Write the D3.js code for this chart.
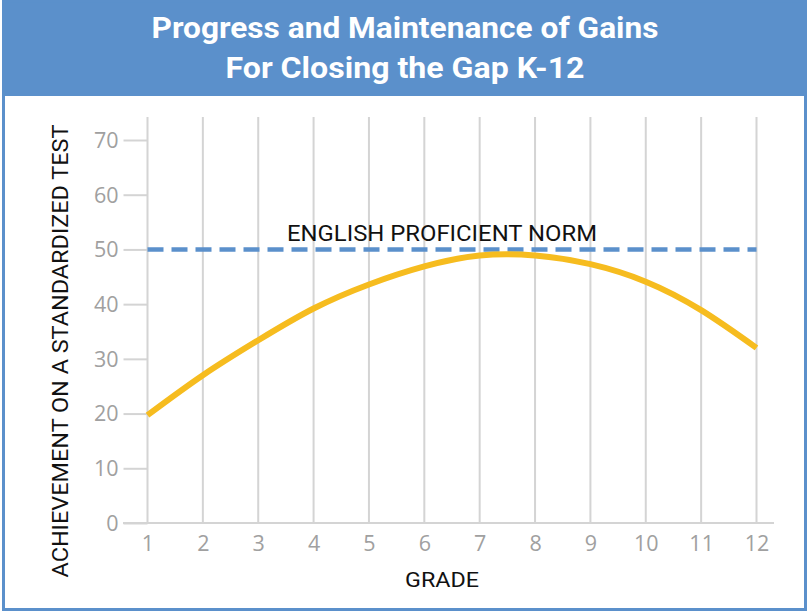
<!DOCTYPE html>
<html>
<head>
<meta charset="utf-8">
<script src="https://cdn.jsdelivr.net/npm/d3@7"></script>
<style>
  html, body { margin: 0; padding: 0; background: #fff; }
  svg { display: block; }
</style>
</head>
<body>
<svg id="chart" width="809" height="612"></svg>
<script>
// Grades on the x axis
const grades = [1, 2, 3, 4, 5, 6, 7, 8, 9, 10, 11, 12];
// Achievement on a standardized test, per grade
const achievement = [19.7, 27.0, 33.4, 39.2, 43.6, 46.9, 48.9, 48.9, 47.3, 44.1, 38.9, 32.0];
// English proficient norm
const normValue = 50;
const yTicks = [0, 10, 20, 30, 40, 50, 60, 70];
const titleLines = ["Progress and Maintenance of Gains", "For Closing the Gap K-12"];

const blue = "#5b90cb";
const gold = "#f6bc1f";
const grid = "#d4d4d4";
const tickGray = "#a0a0a0";

const svg = d3.select("#chart");

// Frame and header band
svg.append("rect").attr("x", 2).attr("y", 0).attr("width", 805).attr("height", 96).attr("fill", blue);
svg.append("rect").attr("x", 3.5).attr("y", 1).attr("width", 802).attr("height", 608.5)
  .attr("fill", "none").attr("stroke", blue).attr("stroke-width", 3);

svg.selectAll("text.title").data(titleLines).join("text")
  .attr("class", "title")
  .attr("x", 405)
  .attr("y", (d, i) => 38 + i * 40)
  .attr("text-anchor", "middle")
  .attr("fill", "#fff")
  .attr("font-family", "Roboto, sans-serif")
  .attr("font-weight", 700)
  .attr("font-size", 30)
  .attr("textLength", (d, i) => i === 0 ? 507 : 359)
  .attr("lengthAdjust", "spacingAndGlyphs")
  .text(d => d);

// Scales
const x = d3.scaleLinear().domain([1, 12]).range([147.5, 756.5]);
const y = d3.scaleLinear().domain([0, 70]).range([523, 140]);

const plot = svg.append("g");

// Vertical grid lines at each grade
plot.selectAll("line.vgrid").data(grades).join("line")
  .attr("class", "vgrid")
  .attr("x1", d => x(d)).attr("x2", d => x(d))
  .attr("y1", 117).attr("y2", y(0))
  .attr("stroke", grid).attr("stroke-width", 2);

// Y axis with outward ticks
const yAxis = d3.axisLeft(y).tickValues(yTicks).tickSize(24).tickPadding(5);
const gy = plot.append("g").attr("transform", `translate(${x(1)},0)`).call(yAxis);
gy.select(".domain").remove();
gy.selectAll(".tick line").attr("stroke", grid).attr("stroke-width", 2);
gy.selectAll(".tick text")
  .attr("fill", tickGray)
  .attr("font-family", "'Open Sans', sans-serif")
  .attr("font-size", 21.5)
  .attr("dy", "0.34em");

// X axis baseline and labels
plot.append("line")
  .attr("x1", 123).attr("x2", 774)
  .attr("y1", y(0)).attr("y2", y(0))
  .attr("stroke", grid).attr("stroke-width", 2);
const xAxis = d3.axisBottom(x).tickValues(grades).tickSize(0).tickPadding(13).tickFormat(d3.format("d"));
const gx = plot.append("g").attr("transform", `translate(0,${y(0)})`).call(xAxis);
gx.select(".domain").remove();
gx.selectAll(".tick text")
  .attr("fill", tickGray)
  .attr("font-family", "'Open Sans', sans-serif")
  .attr("font-size", 21.5);

// Norm line
plot.append("line")
  .attr("x1", x(1)).attr("x2", x(12))
  .attr("y1", y(normValue)).attr("y2", y(normValue))
  .attr("stroke", blue).attr("stroke-width", 4.5)
  .attr("stroke-dasharray", "16,8");

plot.append("text")
  .attr("x", 442).attr("y", 241)
  .attr("text-anchor", "middle")
  .attr("fill", "#111")
  .attr("font-family", "Roboto, sans-serif")
  .attr("font-size", 22)
  .attr("textLength", 310)
  .attr("lengthAdjust", "spacingAndGlyphs")
  .text("ENGLISH PROFICIENT NORM");

// Achievement curve
const line = d3.line()
  .x((d, i) => x(grades[i]))
  .y(d => y(d))
  .curve(d3.curveNatural);
plot.append("path")
  .datum(achievement)
  .attr("d", line)
  .attr("fill", "none")
  .attr("stroke", gold)
  .attr("stroke-width", 6);

// Axis titles
svg.append("text")
  .attr("transform", "translate(68,351) rotate(-90)")
  .attr("text-anchor", "middle")
  .attr("fill", "#111")
  .attr("font-family", "Roboto, sans-serif")
  .attr("font-size", 22)
  .attr("textLength", 453)
  .attr("lengthAdjust", "spacingAndGlyphs")
  .text("ACHIEVEMENT ON A STANDARDIZED TEST");

svg.append("text")
  .attr("x", 442).attr("y", 587)
  .attr("text-anchor", "middle")
  .attr("fill", "#111")
  .attr("font-family", "Roboto, sans-serif")
  .attr("font-size", 21)
  .attr("textLength", 74)
  .attr("lengthAdjust", "spacingAndGlyphs")
  .text("GRADE");
</script>
</body>
</html>
